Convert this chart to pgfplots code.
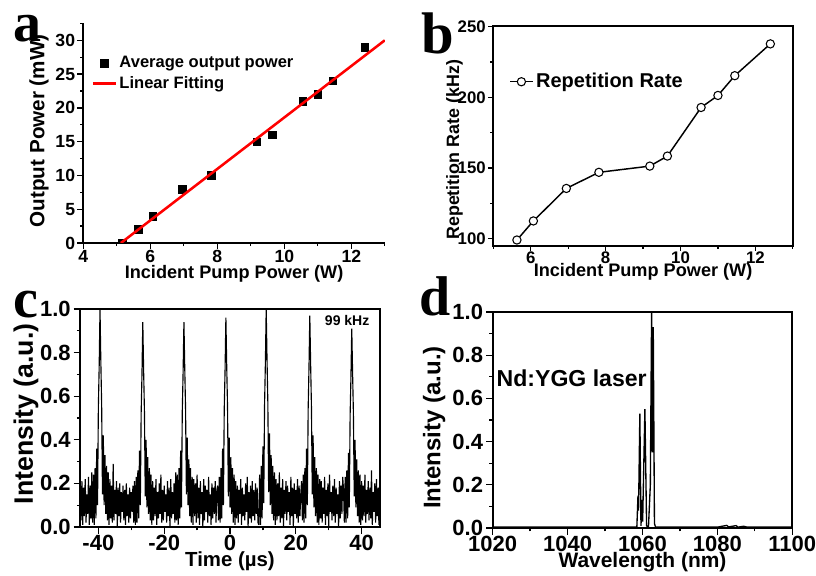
\documentclass[border=0pt]{standalone}
\usepackage{fontspec}
\setmainfont{Liberation Sans}
\newfontfamily\letterfont{Liberation Serif}
\usepackage{pgfplots}
\pgfplotsset{compat=1.18}
\usepackage{pgfplotstable}

% panel c: oscilloscope trace sampled every 0.25 us from -45.5 us
\pgfplotstableread[header=false,row sep=\\]{
0.17\\0.03\\0.21\\0.01\\0.18\\0.05\\0.22\\0.02\\0.15\\0.06\\0.23\\0.01\\0.19\\0.04\\0.25\\0.02\\
0.24\\0.01\\0.27\\0.04\\0.36\\0.10\\0.55\\0.74\\1.00\\0.76\\0.56\\0.15\\0.42\\0.10\\0.33\\0.06\\0.28\\0.03\\0.25\\0.01\\0.22\\
0.04\\0.19\\0.02\\0.29\\0.03\\0.17\\0.06\\0.21\\0.00\\0.18\\0.05\\0.20\\0.02\\0.16\\0.07\\0.19\\0.03\\0.17\\0.01\\0.20\\0.05\\0.15\\0.02\\0.18\\0.04\\0.16\\0.07\\0.19\\0.02\\0.21\\0.01\\
0.23\\0.02\\0.26\\0.04\\0.35\\0.10\\0.52\\0.70\\0.94\\0.72\\0.53\\0.14\\0.40\\0.09\\0.32\\0.06\\0.27\\0.03\\0.24\\0.01\\0.21\\
0.03\\0.18\\0.05\\0.22\\0.01\\0.16\\0.04\\0.20\\0.06\\0.24\\0.02\\0.17\\0.03\\0.19\\0.07\\0.15\\0.02\\0.21\\0.05\\0.18\\0.00\\0.22\\0.04\\0.16\\0.06\\0.20\\0.02\\0.25\\0.03\\
0.24\\0.01\\0.27\\0.04\\0.35\\0.09\\0.53\\0.71\\0.94\\0.73\\0.54\\0.15\\0.41\\0.10\\0.31\\0.05\\0.27\\0.02\\0.23\\0.01\\0.22\\
0.05\\0.20\\0.02\\0.24\\0.04\\0.18\\0.01\\0.21\\0.06\\0.16\\0.00\\0.22\\0.03\\0.19\\0.07\\0.17\\0.02\\0.23\\0.05\\0.15\\0.01\\0.20\\0.04\\0.18\\0.06\\0.21\\0.02\\0.17\\0.19\\0.03\\
0.23\\0.02\\0.27\\0.04\\0.36\\0.10\\0.54\\0.72\\0.96\\0.74\\0.55\\0.14\\0.41\\0.09\\0.32\\0.06\\0.27\\0.02\\0.24\\0.01\\0.21\\
0.04\\0.19\\0.02\\0.17\\0.06\\0.22\\0.01\\0.18\\0.05\\0.15\\0.03\\0.20\\0.07\\0.23\\0.00\\0.16\\0.04\\0.19\\0.02\\0.21\\0.05\\0.17\\0.03\\0.20\\0.06\\0.18\\0.02\\0.01\\
0.24\\0.01\\0.28\\0.04\\0.37\\0.11\\0.56\\0.75\\1.00\\0.77\\0.57\\0.16\\0.43\\0.10\\0.33\\0.06\\0.28\\0.03\\0.25\\0.01\\0.22\\
0.03\\0.20\\0.05\\0.25\\0.02\\0.18\\0.04\\0.22\\0.00\\0.17\\0.06\\0.21\\0.03\\0.19\\0.07\\0.16\\0.01\\0.23\\0.05\\0.18\\0.00\\0.20\\0.06\\0.17\\0.04\\0.22\\0.02\\0.19\\0.05\\0.15\\0.21\\0.03\\
0.24\\0.02\\0.27\\0.04\\0.36\\0.10\\0.54\\0.73\\0.97\\0.75\\0.55\\0.15\\0.42\\0.09\\0.32\\0.05\\0.27\\0.02\\0.24\\0.01\\0.22\\
0.04\\0.21\\0.02\\0.18\\0.06\\0.23\\0.01\\0.17\\0.05\\0.20\\0.00\\0.24\\0.07\\0.16\\0.03\\0.19\\0.05\\0.22\\0.02\\0.18\\0.06\\0.15\\0.00\\0.21\\0.04\\0.19\\0.06\\0.23\\0.17\\0.02\\
0.23\\0.02\\0.26\\0.04\\0.34\\0.09\\0.51\\0.69\\0.91\\0.71\\0.52\\0.14\\0.40\\0.09\\0.31\\0.05\\0.26\\0.02\\0.24\\0.01\\0.21\\
0.03\\0.19\\0.05\\0.24\\0.02\\0.17\\0.06\\0.21\\0.03\\0.18\\0.04\\0.26\\0.01\\0.16\\0.07\\0.20\\0.02\\0.22\\0.05\\0.18\\0.01\\0.23\\
}\pulsetrain

\pgfplotsset{
  common/.style={scale only axis, anchor=south west, tick align=outside,
    every tick/.style={black, line width=1pt},
    axis line style={line width=1.4pt, -},
    xlabel style={inner sep=0pt}, ylabel style={inner sep=0pt}},
}

\begin{document}
\begin{tikzpicture}
\path[use as bounding box] (0,0) rectangle (612pt,431.25pt);

% ---------------- panel a ----------------
\begin{axis}[common, at={(62.5pt,249pt)}, width=226.1pt, height=165pt,
  xmin=4, xmax=13, ymin=0, ymax=32.56,
  axis x line*=bottom, axis y line*=left,
  xtick={4,6,8,10,12}, xticklabels={4,6,8,10,12},
  minor xtick={5,7,9,11,13},
  ytick={0,5,10,15,20,25,30}, yticklabels={0,5,10,15,20,25,30},
  minor ytick={2.5,7.5,12.5,17.5,22.5,27.5,32.5},
  major tick length=4.5pt, minor tick length=2.3pt,
  tick label style={font=\bfseries\fontsize{13.2}{15}\selectfont},
  xticklabel style={inner sep=0.8pt}, yticklabel style={inner sep=1.5pt},
  xlabel={Incident Pump Power (W)}, ylabel={Output Power (mW)},
  xlabel style={font=\bfseries\fontsize{13.6}{16}\selectfont, at={(axis description cs:0.5,-0.138)}, anchor=center},
  ylabel style={font=\bfseries\fontsize{15.5}{17}\selectfont, at={(axis description cs:-0.147,0.51)}, anchor=center},
  clip marker paths=true,
  legend cell align=left,
  legend style={at={(axis description cs:0.013,0.873)}, anchor=north west, draw=none, fill=none,
    font=\bfseries\fontsize{12.4}{14}\selectfont, row sep=1pt},
]
\addplot[only marks, mark=square*, mark size=2.9pt, black] coordinates {
  (5.17,0) (5.63,2) (6.07,4) (6.95,8) (7.82,10) (9.18,15) (9.65,16)
  (10.55,21) (11.0,22) (11.45,24) (12.40,29)};
\addlegendentry{Average output power}
\addplot[red, line width=1.9pt] coordinates {(5.12,0) (13,30)};
\addlegendentry{Linear Fitting}
\end{axis}

% ---------------- panel b ----------------
\begin{axis}[common, at={(370pt,247pt)}, width=224.6pt, height=164.8pt,
  xmin=5, xmax=13, ymin=95, ymax=250.5,
  tick pos=left,
  xtick={6,8,10,12}, xticklabels={6,8,10,12},
  minor xtick={5,7,9,11,13},
  ytick={100,150,200,250}, yticklabels={100,150,200,250},
  minor ytick={125,175,225},
  major tick length=4pt, minor tick length=2.3pt,
  tick label style={font=\bfseries\fontsize{12.6}{14}\selectfont},
  xticklabel style={inner sep=0.5pt}, yticklabel style={inner sep=1.5pt},
  xlabel={Incident Pump Power (W)}, ylabel={Repetition Rate (kHz)},
  xlabel style={font=\bfseries\fontsize{13.6}{16}\selectfont, at={(axis description cs:0.5,-0.118)}, anchor=center},
  ylabel style={font=\bfseries\fontsize{13.4}{16}\selectfont, at={(axis description cs:-0.13,0.436)}, anchor=center},
  legend cell align=left,
  legend style={at={(axis description cs:0.039,0.809)}, anchor=north west, draw=none, fill=none,
    font=\bfseries\fontsize{15}{17}\selectfont},
]
\addplot[black, line width=1.1pt, mark=*, mark size=3.1pt, mark options={fill=white, draw=black, line width=0.8pt}] coordinates {
  (5.63,99) (6.07,112.5) (6.95,135.5) (7.82,146.9) (9.18,151.3) (9.65,158.4)
  (10.55,192.8) (11.0,201.3) (11.45,215.3) (12.40,237.8)};
\addlegendentry{Repetition Rate}
\end{axis}

% ---------------- panel c ----------------
\begin{axis}[common, at={(60.2pt,36pt)}, width=224.6pt, height=163.5pt,
  xmin=-45.5, xmax=45.5, ymin=0, ymax=1,
  tick pos=left,
  axis line style={line width=1.7pt},
  xtick={-40,-20,0,20,40}, xticklabels={-40,-20,0,20,40},
  minor xtick={-30,-10,10,30},
  ytick={0,0.2,0.4,0.6,0.8,1}, yticklabels={0.0,0.2,0.4,0.6,0.8,1.0},
  minor ytick={0.1,0.3,0.5,0.7,0.9},
  major tick length=5pt, minor tick length=2.5pt,
  tick label style={font=\bfseries\fontsize{16.5}{19}\selectfont},
  xticklabel style={inner sep=1pt}, yticklabel style={inner sep=2pt},
  xlabel={Time (µs)}, ylabel={Intensity (a.u.)},
  xlabel style={font=\bfseries\fontsize{15.3}{18}\selectfont, at={(axis description cs:0.5,-0.156)}, anchor=center},
  ylabel style={font=\bfseries\fontsize{20}{22}\selectfont, at={(axis description cs:-0.181,0.519)}, anchor=center},
]
\addplot[black, line width=0.85pt, line join=miter, miter limit=3] table[x expr={-45.5+0.25*\coordindex}, y index=0] {\pulsetrain};
\node[font=\bfseries\fontsize{10.5}{12}\selectfont] at (axis cs:35.6,0.945) {99 kHz};
\end{axis}

% ---------------- panel d ----------------
\begin{axis}[common, at={(369.5pt,35.25pt)}, width=224.7pt, height=162pt,
  xmin=1020, xmax=1100, ymin=0, ymax=1,
  tick pos=left,
  axis line style={line width=1.7pt},
  xtick={1020,1040,1060,1080,1100}, xticklabels={1020,1040,1060,1080,1100},
  minor xtick={1030,1050,1070,1090},
  ytick={0,0.2,0.4,0.6,0.8,1}, yticklabels={0.0,0.2,0.4,0.6,0.8,1.0},
  minor ytick={0.1,0.3,0.5,0.7,0.9},
  major tick length=5pt, minor tick length=2.5pt,
  tick label style={font=\bfseries\fontsize{16.5}{19}\selectfont},
  xticklabel style={inner sep=1pt}, yticklabel style={inner sep=2pt},
  xlabel={Wavelength (nm)}, ylabel={Intensity (a.u.)},
  xlabel style={font=\bfseries\fontsize{15.7}{18}\selectfont, at={(axis description cs:0.5,-0.157)}, anchor=center},
  ylabel style={font=\bfseries\fontsize{18}{20}\selectfont, at={(axis description cs:-0.195,0.465)}, anchor=center},
]
\addplot[black, line width=1pt] coordinates {
  (1020,0.004) (1035,0.004) (1050,0.004) (1058.5,0.004) (1058.8,0.15) (1058.95,0.08)
  (1059.3,0.53) (1059.6,0.01) (1059.85,0.13) (1060.05,0.03) (1060.65,0.55) (1061.1,0.01)
  (1061.6,0.004) (1062.1,0.2) (1062.45,1.03) (1062.65,0.35) (1062.88,0.93) (1063.2,0.02)
  (1063.5,0.004) (1080,0.004) (1082.5,0.012) (1083,0.005) (1085,0.011) (1085.5,0.004)
  (1087,0.008) (1088,0.004) (1100,0.004)};
\node[font=\bfseries\fontsize{17.3}{20}\selectfont] at (axis cs:1041.1,0.694) {Nd:YGG laser};
\end{axis}

% panel letters
\node[font=\letterfont\bfseries\fontsize{42}{42}\selectfont, inner sep=0pt] at (20.25pt,409.5pt) {a};
\node[font=\letterfont\bfseries\fontsize{44}{44}\selectfont, inner sep=0pt] at (328.5pt,406.5pt) {b};
\node[font=\letterfont\bfseries\fontsize{42}{42}\selectfont, inner sep=0pt] at (19.5pt,202.5pt) {c};
\node[font=\letterfont\bfseries\fontsize{42}{42}\selectfont, inner sep=0pt] at (326.25pt,209.25pt) {d};
\end{tikzpicture}
\end{document}
